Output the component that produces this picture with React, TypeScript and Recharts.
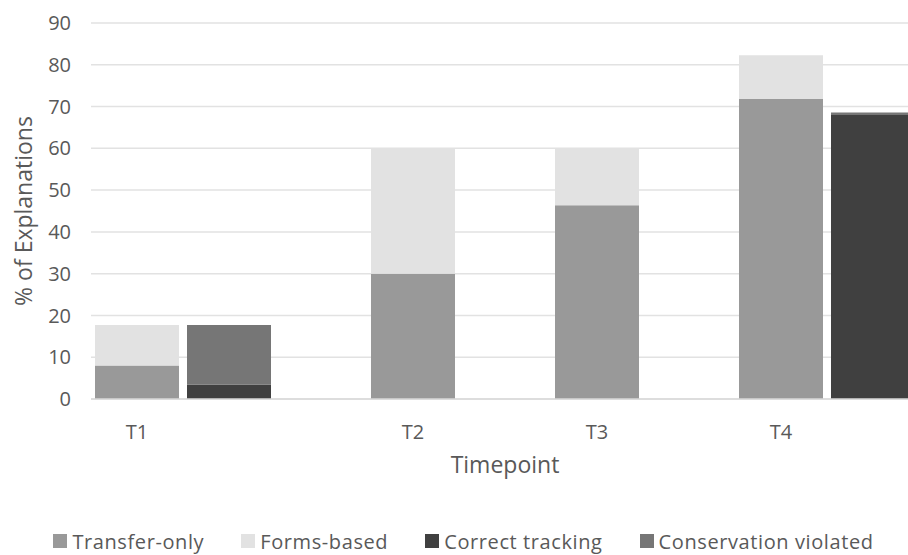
import React from 'react';
import { BarChart, Bar, XAxis, YAxis, CartesianGrid, Legend } from 'recharts';

// Slot labels along the category axis (each slot holds one bar)
const slotLabels = ['T1', '', '', 'T2', '', 'T3', '', 'T4', ''];
// Series values (% of explanations)
const transferOnly = [8, 0, 0, 30, 0, 46.4, 0, 71.8, 0];
const formsBased = [9.7, 0, 0, 30, 0, 13.6, 0, 10.5, 0];
const correctTracking = [0, 3.5, 0, 0, 0, 0, 0, 0, 68];
const conservationViolated = [0, 14.2, 0, 0, 0, 0, 0, 0, 0.6];
const yTicks = [0, 10, 20, 30, 40, 50, 60, 70, 80, 90];
const legendOrder = ['Transfer-only', 'Forms-based', 'Correct tracking', 'Conservation violated'];

const data = slotLabels.map((label, i) => ({
  slot: i,
  label,
  transfer: transferOnly[i],
  forms: formsBased[i],
  correct: correctTracking[i],
  violated: conservationViolated[i],
}));

const FONT = '"Open Sans", "Noto Sans", sans-serif';
const TEXT = '#595959';

const renderLegend = (props: any) => {
  const payload = [...(props.payload || [])].sort(
    (a: any, b: any) => legendOrder.indexOf(a.value) - legendOrder.indexOf(b.value)
  );
  return (
    <div
      style={{
        display: 'flex',
        justifyContent: 'center',
        alignItems: 'center',
        height: 24,
        fontFamily: FONT,
        fontSize: 20,
        color: TEXT,
        whiteSpace: 'nowrap',
      }}
    >
      {payload.map((e: any, i: number) => (
        <div key={e.value} style={{ display: 'flex', alignItems: 'center', marginLeft: i ? 37 : 0 }}>
          <span style={{ display: 'inline-block', width: 14, height: 14, background: e.color, marginRight: 5 }} />
          <span style={{ letterSpacing: 0.6 }}>{e.value}</span>
        </div>
      ))}
    </div>
  );
};

export default function App() {
  return (
    <div style={{ position: 'fixed', left: 8, top: 8, width: 900, height: 547, overflow: 'hidden', background: '#fff' }}>
      <BarChart
        width={912}
        height={547}
        data={data}
        margin={{ top: 15, right: 1, bottom: 2, left: 0 }}
      >
        <CartesianGrid vertical={false} stroke="#e2e2e2" strokeWidth={1.5} />
        <XAxis
          dataKey="slot"
          type="category"
          interval={0}
          tickFormatter={(v: any, i: number) => slotLabels[i] ?? ''}
          tickLine={false}
          tickSize={0}
          tickMargin={26}
          axisLine={{ stroke: '#d9d9d9', strokeWidth: 1.5 }}
          height={130}
          tick={{ fill: TEXT, fontSize: 20, fontFamily: FONT }}
          label={{ value: 'Timepoint', position: 'insideTop', offset: 58, fill: TEXT, fontSize: 23, fontFamily: FONT }}
        />
        <YAxis
          domain={[0, 90]}
          ticks={yTicks}
          width={83}
          tickLine={false}
          axisLine={false}
          tickSize={0}
          tickMargin={20}
          tick={{ fill: TEXT, fontSize: 20, fontFamily: FONT }}
          label={{
            value: '% of Explanations',
            angle: -90,
            position: 'insideLeft',
            offset: 16,
            fill: TEXT,
            fontSize: 23,
            fontFamily: FONT,
            style: { textAnchor: 'middle' },
          }}
        />
        <Legend verticalAlign="bottom" content={renderLegend} />
        <Bar dataKey="transfer" name="Transfer-only" stackId="s" fill="#999999" barSize={84} isAnimationActive={false} />
        <Bar dataKey="forms" name="Forms-based" stackId="s" fill="#e2e2e2" barSize={84} isAnimationActive={false} />
        <Bar dataKey="correct" name="Correct tracking" stackId="s" fill="#404040" barSize={84} isAnimationActive={false} />
        <Bar dataKey="violated" name="Conservation violated" stackId="s" fill="#767676" barSize={84} isAnimationActive={false} />
      </BarChart>
    </div>
  );
}
